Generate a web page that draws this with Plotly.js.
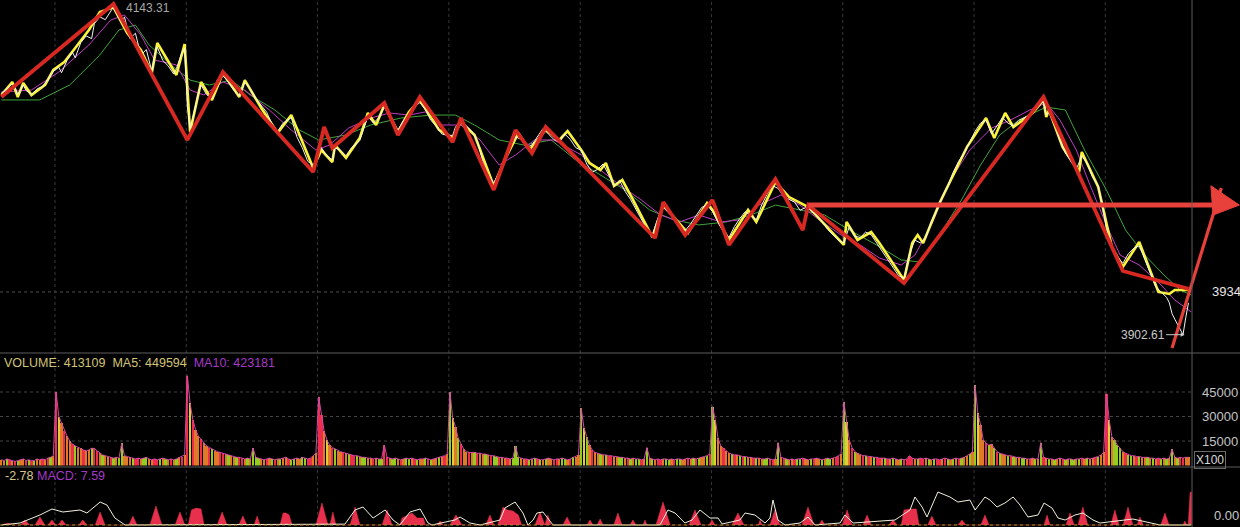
<!DOCTYPE html>
<html><head><meta charset="utf-8">
<script src="https://cdn.plot.ly/plotly-3.0.1.min.js"></script>
<style>html,body{margin:0;padding:0;background:#000;overflow:hidden}#chart{width:1240px;height:527px}</style>
</head><body><div id="chart"></div>
<script>
// ===== DATA (x = 5-minute bar index, price in index points) =====
const dayOpenBars = [20,68,116,164,212,260,308,356,404];
const highLabel = 4143.31;
const lowLabel = 3902.61;
const refLevel = 3934;

const whitePrice = [[0,4080],[2,4083],[4,4087],[5,4084],[6,4079],[8,4086],[9,4082],[11,4079],[13,4083],[15,4085],[17,4090],[19,4096],[21,4099],[22,4095],[24,4104],[26,4110],[27,4106],[29,4117],[31,4122],[33,4120],[34,4131],[36,4136],[38,4134],[40,4140],[41,4143.3],[42,4139],[44,4132],[45,4136],[47,4120],[49,4124],[51,4108],[53,4112],[55,4096],[56,4108],[57,4114],[59,4104],[61,4100],[63,4094],[64,4098],[66,4110],[67,4113],[68,4070],[69,4054],[70,4062],[72,4080],[73,4086],[75,4079],[77,4076],[79,4090],[81,4093],[83,4088],[85,4082],[87,4078],[89,4088],[91,4083],[93,4076],[95,4071],[97,4066],[99,4057],[101,4052],[103,4058],[106,4062],[108,4048],[110,4040],[112,4030],[114,4027],[116,4036],[117,4040],[119,4034],[121,4031],[122,4040],[124,4038],[126,4034],[128,4040],[131,4045],[133,4058],[134,4063],[136,4058],[138,4062],[140,4070],[142,4064],[143,4058],[145,4053],[147,4060],[149,4064],[151,4070],[153,4073],[155,4068],[157,4060],[159,4056],[161,4050],[163,4049],[165,4049],[166,4055],[168,4060],[170,4056],[172,4052],[174,4045],[176,4030],[178,4020],[180,4014],[182,4022],[184,4032],[186,4040],[188,4048],[190,4046],[192,4040],[194,4042],[196,4048],[198,4054],[200,4050],[202,4046],[204,4044],[206,4050],[208,4046],[210,4040],[212,4038],[214,4028],[216,4022],[218,4024],[220,4028],[222,4020],[224,4012],[226,4016],[228,4008],[230,4002],[232,3995],[234,3988],[236,3980],[238,3976],[240,3988],[242,3996],[244,3992],[246,3988],[248,3982],[250,3979],[252,3984],[254,3990],[256,3996],[258,3998],[260,3993],[262,3985],[264,3978],[266,3974],[268,3982],[270,3988],[272,3993],[274,3990],[276,3987],[278,3998],[280,4006],[282,4012],[284,4010],[286,4004],[288,4002],[290,4000],[292,3994],[294,3996],[296,3994],[298,3990],[300,3986],[302,3980],[304,3976],[306,3972],[308,3970],[310,3982],[312,3975],[314,3974],[316,3978],[318,3976],[320,3970],[322,3964],[324,3958],[326,3952],[328,3946],[330,3944],[332,3962],[334,3972],[336,3970],[338,3974],[340,3986],[342,3994],[344,4004],[346,4012],[348,4022],[350,4030],[352,4036],[354,4044],[356,4052],[358,4058],[360,4060],[362,4050],[364,4056],[366,4062],[368,4058],[370,4056],[372,4060],[374,4062],[376,4064],[378,4068],[380,4072],[381,4074],[382,4064],[383,4066],[385,4058],[387,4046],[389,4036],[391,4030],[393,4024],[395,4034],[397,4028],[399,4018],[401,4012],[403,3992],[404,3980],[406,3968],[408,3960],[410,3955],[412,3962],[414,3966],[416,3968],[418,3958],[420,3948],[422,3938],[424,3934],[426,3930],[427,3926],[428,3918],[429,3914],[430,3910],[431,3906],[432,3902.61],[433,3915],[434,3926]];

const maPurple = [[0,4080.8],[11,4082.3],[21,4095.5],[32,4115.4],[40,4133.7],[45,4137.4],[51,4122.7],[56,4104.3],[64,4100.7],[69,4082.3],[74,4078.6],[81,4088.2],[89,4082.3],[98,4067.6],[106,4052.9],[115,4038.2],[120,4041.9],[127,4054.4],[135,4061.7],[142,4065.4],[149,4063.9],[155,4066.2],[160,4056.6],[168,4056.6],[175,4045.6],[182,4027.2],[188,4034.6],[195,4045.6],[202,4045.6],[212,4034.6],[219,4023.6],[226,4012.5],[234,4001.5],[241,3990.5],[248,3985.4],[255,3990.5],[263,3985.4],[270,3986.9],[277,3997.8],[285,4005.2],[292,3997.8],[299,3986.9],[307,3975.8],[314,3968.5],[321,3958.9],[329,3953.8],[334,3961.1],[340,3983.2],[347,4016.2],[354,4038.2],[362,4054.4],[369,4060.3],[376,4067.6],[382,4072.8],[387,4060.3],[393,4038.2],[398,4012.5],[404,3983.2],[409,3961.1],[416,3953.8],[424,3939.1],[429,3928.1],[435,3919.3]];

const maGreen = [[0,4075.0],[14,4075.0],[25,4086.0],[36,4108.0],[43,4126.4],[49,4130.0],[54,4115.4],[62,4100.7],[69,4089.6],[76,4086.0],[84,4089.6],[91,4078.6],[100,4067.6],[109,4052.9],[116,4045.6],[126,4049.3],[135,4056.6],[146,4061.7],[157,4063.9],[166,4063.9],[173,4056.6],[182,4045.6],[191,4041.9],[201,4045.6],[210,4030.9],[219,4019.9],[228,4008.9],[237,3994.2],[246,3986.9],[255,3983.2],[265,3985.4],[274,3990.5],[283,3997.8],[292,3994.2],[301,3990.5],[310,3979.5],[320,3968.5],[329,3957.5],[336,3956.0],[343,3975.8],[351,4001.5],[358,4027.2],[365,4049.3],[372,4060.3],[382,4069.8],[389,4067.6],[396,4038.2],[404,4008.9],[411,3979.5],[418,3961.1],[425,3946.5],[431,3935.4],[435,3931.8]];

const yellowZig = [[0,4078.6],[4,4088.2],[6,4077.2],[8,4087.4],[11,4078.6],[16,4086.0],[19,4097.0],[23,4102.9],[27,4113.1],[32,4126.4],[36,4139.6],[41,4143.0],[46,4124.2],[51,4111.7],[55,4094.8],[57,4116.8],[64,4093.3],[67,4116.1],[69,4051.5],[73,4088.2],[77,4075.0],[81,4094.8],[87,4077.2],[89,4089.6],[95,4069.1],[101,4050.7],[106,4063.9],[114,4025.0],[117,4038.2],[121,4029.4],[122,4041.9],[126,4032.4],[131,4047.0],[134,4065.4],[137,4056.6],[140,4071.3],[145,4051.5],[149,4066.2],[153,4075.0],[160,4053.0],[165,4047.1],[168,4058.8],[173,4049.3],[180,4011.8],[184,4030.9],[189,4050.7],[193,4038.2],[199,4052.9],[204,4045.6],[207,4052.2],[212,4038.2],[215,4028.7],[219,4023.6],[221,4028.7],[224,4011.8],[227,4016.2],[231,4001.5],[238,3974.3],[242,3997.8],[251,3977.3],[258,3999.3],[260,3994.2],[266,3972.2],[273,3994.2],[276,3985.4],[283,4014.7],[288,4003.7],[295,3996.4],[308,3968.5],[309,3985.4],[313,3972.2],[318,3978.0],[321,3969.9],[330,3942.8],[333,3969.9],[335,3975.8],[337,3969.9],[343,3999.3],[353,4040.4],[360,4061.7],[363,4047.0],[367,4065.4],[370,4055.1],[377,4065.4],[381,4075.0],[382,4062.5],[383,4067.6],[388,4040.4],[394,4022.1],[395,4036.8],[401,4011.1],[404,3983.2],[406,3967.0],[410,3952.3],[416,3970.7],[423,3934.0],[427,3932.5],[429,3935.4],[434,3935.4]];

const redZig = [[0,4077.2],[41,4145.5],[68,4045.6],[81,4095.5],[114,4022.1],[118,4055.1],[121,4039.7],[140,4072.8],[145,4049.3],[153,4077.2],[165,4044.1],[168,4061.7],[180,4008.9],[188,4052.9],[194,4036.0],[199,4055.1],[239,3973.6],[242,4000.0],[250,3975.8],[260,4001.5],[266,3968.5],[283,4016.9],[293,3979.5],[295,3997.8],[330,3940.6],[381,4077.2],[410,3949.4],[434,3936.2]];

// hand-drawn arrows on the chart
const arrowFlat = [[295,3997.8],[446.5,3997.8]];
const arrowHead = [[442.2,4012.0],[452.6,3997.8],[443.0,3990.5],[442.2,4012.0]];
const arrowRise = [[428,3892.8],[446,4010.3]];

// volume (axis units x100, listed in thousands)
const volDays = [
 [3.5,3,4,3.5,3,2.5,3,3.5, 4,3,3.5,3,3,4,3.5,4, 3.5,4.5,5,6],
 [45,30,26,21,18,15,13,12, 11,10.5,9.5,9,9.5,10.5,10.5,9, 7.5,6.5,6,5.5,5,4.5,5,4.5, 13.5,6,5.5,5,4.5,4,4.5,4, 4.5,5,4,3.5,4,3.5,4,4.5, 4,3.5,4,3.5,4,5,5.5,6.5],
 [55,38,28,22,18,16,14,12, 11,10,9,8.5,8,7.5,7,6.5, 6,5.5,5,5,4.5,4,4.5,4, 10.7,5,4.5,4,3.5,4,4.5,4, 3.5,4,4,4.5,5,4,3.5,4, 4.5,4,5,4.5,4,4.5,6,7.5],
 [42,31,21,15.6,12.5,11,10,9, 8.5,8,7.5,7,6.5,6,6,5.5, 5,5,4.5,4.5,4,4.5,4,4, 12.5,5,4.5,4,4.5,4,3.5,4, 4.5,4,4.5,4,3.5,4,4,4.5, 4,3.5,4,4.5,5,5.5,6,7],
 [45,29,23.8,16.8,13,10,8.5,8, 8,8,7.5,7.5,7,7,6.5,6, 6,5.5,5,5,4.5,4.5,4,4.5, 12,5,4.5,4,4,3.5,4,4.5, 4,3.5,3.5,4,4.5,4,3.5,4, 4,4.5,4,3.5,4,5,5.5,6.5],
 [35,23,17.6,12.5,9.5,8,7.5,7, 6.5,6.5,6,6,5.5,5.5,5,5, 4.5,4.5,4,4.5,4,4,3.5,4, 11,4.5,4,3.5,4,3.5,4,4, 3.5,4,3.5,4,4,3.5,4,4.5, 4,4.5,4,4.5,5,5.5,6,7],
 [36,28,16.8,12,10.6,9,7.6,7, 6.5,6.5,6,5.5,5.5,5,5,4.5, 4.5,4.5,4,4,4.5,4,3.5,4, 14,5,4.5,4,3.5,4,3.5,4, 4,4.5,4,3.5,4,4,4.5,4, 3.5,4,4.5,4,4.5,5,6,7],
 [39,26.8,15.6,11,8.5,7.5,6.5,6, 6,5.5,5.5,5,5,4.5,4.5,4.5, 4,4,4.5,4,3.5,4,3.5,4, 6,4.5,4,4,4.5,4,4.5,4, 3.5,4,4,3.5,4,4.5,4,3.5, 4,4.5,4,4.5,5,6,7,8],
 [49,32,24.8,15.6,13.7,12.5,13,10.6, 8.5,7.5,7,6.5,6,6,5.5,5, 5,4.5,4.5,4,4,4.5,4,4, 14,5,4.5,4,4,3.5,4,4.5, 4,3.5,4,4,3.5,4,4,4.5, 4,4.5,4,4.5,5,5.5,6.5,8],
 [44,28,17.6,15.6,12.5,10.6,8.5,7.5, 6.5,6,6,5.5,5.5,5,5,5, 4.5,4.5,4,4.5,4,4.5,4,4.5, 10,5,4.5,5,4.5,5,5]
];
// bar colour codes: r = red, g = green, o = orange, y = yellow
const volColorDays = [
 "oogrorgo orgrgoor orgo",
 "ryoroorg ooroogrr ogoorgog gooogrro ggoorrgo gorogoro",
 "ryrooroo rgoorrog oogrrogo gggoorog rogoorgg ooggrroo",
 "rroyorgo orogrrgo ggoorogg rroggoro ggorgoog rgoogoro",
 "gyogroor ogroogor ggroorog ggoorgog rgogoorr oggorgoo",
 "gygoroog ogrroogg orgoggro gogorrog gorggoor ogrgoogr",
 "gyooroog rogrgoor googgrro gorgoorg groogroo goggorro",
 "gyorgoor grogrrog rogoogrr rrogrrog ogrrorgo gorgoogo",
 "gyoorgog rgoogrgo oggorogo grogogoo rgoggogr ogoorgoo",
 "ryogggor ggorgoog ogorgogo gogrroo"
];
const volTicks = [15, 30, 45];
const volTickText = ["15000", "30000", "45000"];

// MACD histogram outline (bar index, value) and DIF line
const macdHist = [[0,0],[2.4,0.46],[4,0],[7,0],[8.6,1.15],[10.4,0],[12.3,0],[14.1,1.84],[15.9,0],[17,0],[18.5,1.15],[20,0],[20.7,0],[22.2,1.15],[23.7,0],[28.3,0],[29.8,1.15],[31.3,0],[34.3,0],[36.1,2.99],[37.9,0],[46.6,0],[48.1,2.07],[49.6,0],[54.3,0],[56.5,4.37],[58.7,0],[63.5,0],[65.3,2.99],[67.1,0],[68.3,0],[69.5,3.45],[71.2,3.91],[73,3.68],[74.1,0],[78.9,0],[80.7,2.99],[82.5,0],[86.8,0],[88.3,2.07],[89.8,0],[92.4,0],[93.5,2.07],[94.6,0],[101.9,0],[103,2.76],[104.1,2.76],[105.2,2.3],[106.3,0],[115,0],[117.2,5.06],[119.4,0],[120.1,0],[121.2,2.99],[122.3,0],[127.5,0],[129.3,4.14],[131.1,0],[139.2,0],[141,3.45],[142.8,0],[145.7,0],[146.5,1.61],[150.1,2.76],[152,1.61],[154.3,1.61],[155,0],[159.3,0],[160.4,0.92],[161.5,0],[164,0],[166.2,2.3],[168.4,0],[177.1,0],[178.6,2.3],[180.1,0],[181.5,0],[183.4,4.14],[185,3.45],[187,3.22],[189,2.3],[190.2,0],[195.1,0],[196.9,2.99],[198.7,0],[199.8,2.3],[200.9,0],[205.3,0],[206.8,1.84],[208.3,0],[214.1,0],[215.2,1.15],[216.3,0],[217.8,0],[218.9,1.38],[220,0],[223.9,0],[225.4,2.76],[226.9,0],[229.8,0],[230.9,1.15],[232,0],[234.6,0],[235.3,1.15],[236,0],[239.3,0],[241.9,5.29],[244.5,0],[251.4,0],[253.6,3.45],[255.8,0],[258.7,0],[259.8,1.15],[260.9,0],[267.1,0],[269.3,2.76],[271.5,0],[276.7,0],[277.4,1.15],[278.1,0],[281,0],[282.8,3.45],[284.6,0],[292.7,0],[294.9,4.14],[297.1,0],[298.9,0],[300,1.15],[301.1,0],[307.4,0],[309.2,3.45],[311,0],[315,0],[316.5,2.3],[318,0],[324.5,0],[326,1.15],[327.5,0],[329,0],[330,3.45],[332.2,3.68],[334.5,3.68],[335.5,0],[338.7,0],[340.2,2.07],[341.7,0],[349.7,0],[351.2,1.15],[352.7,0],[358.1,0],[359.6,2.3],[361.1,0],[381.2,0],[382.3,2.3],[383.4,0],[389.2,0],[390.7,2.76],[392.2,0],[393.6,0],[395.4,4.14],[397.2,0],[405.6,0],[407.1,3.45],[408.6,0],[410.1,0],[411.9,4.14],[413.7,0],[415.2,0],[416.3,1.84],[417.4,0],[423.9,0],[425.4,2.76],[426.9,0],[432,0],[432.7,0.92],[433.4,0],[433.9,0],[434.6,7.59],[435.1,7.59],[435.2,0]];

const macdDif = [[0,0],[6.8,0.46],[14.1,2.3],[18.5,3.68],[22.5,2.99],[28.7,3.45],[31.3,2.76],[36.1,5.29],[38.6,4.6],[41.5,1.61],[45.2,0],[125.6,0.2],[129.3,3.45],[132.2,4.14],[135.9,1.61],[140.3,3.45],[143.2,1.15],[145.7,0],[149.4,2.99],[153.1,3.68],[156,0.46],[157.4,0],[165.8,1.15],[167.7,1.84],[171.3,0.46],[175,0],[182.3,1.15],[184.1,3.91],[187.8,5.29],[190.7,2.76],[192.5,0],[194.4,1.15],[195.8,2.76],[198,2.99],[201.7,0],[240.8,0],[243.7,3.45],[246.3,2.76],[249.9,0.46],[252.5,1.15],[255.4,3.45],[259.1,1.61],[262,1.61],[263.5,0.23],[270,1.15],[271.9,2.76],[275.5,2.3],[279.2,0.46],[281,1.61],[282.1,5.75],[283.9,1.15],[286.5,0],[292,0.46],[294.9,1.84],[297.5,0],[306.6,0.46],[308.4,2.3],[311.4,0.46],[326.7,1.15],[332.2,3.45],[334,6.44],[336.6,4.14],[338.4,1.84],[342.4,7.59],[346.8,6.44],[349.7,5.29],[354.1,5.75],[356,3.45],[359.6,6.44],[361.4,5.75],[364,4.14],[366.9,5.06],[369.9,6.44],[372.4,4.6],[375.3,1.84],[379,2.3],[381.2,5.06],[384.1,3.91],[386.3,1.61],[388.9,1.15],[392.5,2.3],[395.4,2.76],[399.1,1.15],[401.7,0.46],[413.7,1.38],[418.1,0.69],[423.6,0],[435,0]];

const volLabel = {vol: "413109", ma5: "449594", ma10: "423181"};
const macdLabel = {dif: "-2.78", macd: "7.59"};

// ===== BUILD =====
const colMap = {r:'#ee2c4c', g:'#93cc22', o:'#e07a28', y:'#e2cc3c'};
const vol = [].concat(...volDays);
const volCodes = volColorDays.join('').replace(/ /g,'');
const volX = vol.map((v,i)=>i);
const volCol = vol.map((v,i)=>colMap[volCodes[i]] || colMap.o);
const xs = a => a.map(p=>p[0]);
const ys = a => a.map(p=>p[1]);
const XR = 435.3; // right edge of plotting area (bar units)

const line = (pts, color, width, yaxis) => ({type:'scatter', mode:'lines', x:xs(pts), y:ys(pts),
  line:{color, width}, yaxis: yaxis||'y', hoverinfo:'skip'});

const traces = [
  line(maGreen, '#3fa63a', 1),
  line(maPurple, '#c23cc8', 1),
  line(yellowZig, '#fbf33a', 2.6),
  line(whitePrice, '#f4f4f4', 1),
  line(redZig, '#d82822', 3.8),
  line(arrowFlat, '#e8403a', 5),
  line(arrowRise, '#e8403a', 3.2),
  {type:'scatter', mode:'lines', x:xs(arrowHead), y:ys(arrowHead), fill:'toself',
   fillcolor:'#e8403a', line:{color:'#e8403a', width:1}, hoverinfo:'skip'},
  {type:'bar', x:volX, y:vol, yaxis:'y2', marker:{color:volCol, line:{width:0}}, width:0.82, hoverinfo:'skip'},
  {type:'scatter', mode:'lines', x:volX, y:vol, yaxis:'y2', line:{color:'#d24aa8', width:1}, hoverinfo:'skip'},
  {type:'scatter', mode:'lines', x:xs(macdHist), y:ys(macdHist), yaxis:'y3', fill:'tozeroy',
   fillcolor:'#e8304c', line:{color:'#e8304c', width:0.5}, hoverinfo:'skip'},
  line(macdDif, '#f4f0dc', 1, 'y3')
];

const shapes = [];
dayOpenBars.forEach(t => shapes.push({type:'line', xref:'x', yref:'paper', x0:t-0.4, x1:t-0.4, y0:0, y1:1,
  layer:'below', line:{color:'#383838', width:1, dash:'dot'}}));
shapes.push({type:'line', xref:'x', yref:'y', x0:-0.5, x1:XR, y0:refLevel, y1:refLevel, layer:'below',
  line:{color:'#4e4e4e', width:1, dash:'dot'}});
volTicks.forEach(v => shapes.push({type:'line', xref:'x', yref:'y2', x0:-0.5, x1:XR, y0:v, y1:v, layer:'below',
  line:{color:'#444', width:1, dash:'dot'}}));
shapes.push({type:'line', xref:'x', yref:'y3', x0:-0.5, x1:XR, y0:0, y1:0, line:{color:'#8a9a20', width:1, dash:'dot'}});
shapes.push({type:'line', xref:'paper', yref:'paper', x0:0, x1:1, y0:1-353/527, y1:1-353/527, line:{color:'#5c5c5c', width:1}});
shapes.push({type:'line', xref:'paper', yref:'paper', x0:0, x1:1, y0:1-467/527, y1:1-467/527, line:{color:'#5c5c5c', width:1}});
shapes.push({type:'line', xref:'x', yref:'paper', x0:XR, x1:XR, y0:0, y1:1, line:{color:'#5c5c5c', width:1}});

const F = 'Liberation Sans, Arial, sans-serif';
const annotations = [
  {xref:'x', yref:'y', x:53.6, y:highLabel-0.8, text:highLabel.toFixed(2), showarrow:false,
   font:{family:F, size:12, color:'#a8a8a8'}},
  {xref:'x', yref:'y', x:432.6, y:lowLabel, text:lowLabel.toFixed(2), showarrow:true, ax:-42, ay:0,
   arrowhead:2, arrowsize:0.8, arrowwidth:1, arrowcolor:'#cccccc', standoff:0, font:{family:F, size:12, color:'#c8c8c8'}},
  {xref:'x', yref:'y', x:441.9, y:refLevel, xanchor:'left', text:String(refLevel), showarrow:false,
   font:{family:F, size:13, color:'#e6e6e6'}},
  {xref:'x', yref:'y2', x:436.0, y:3.6, xanchor:'left', text:'X100', showarrow:false, bordercolor:'#6a6a6a',
   borderwidth:1, borderpad:1, font:{family:F, size:12, color:'#d8d8d8'}},
  {xref:'x', yref:'y3', x:442.6, y:0.5, yanchor:'bottom', yshift:-2, text:'0.00', xanchor:'left', showarrow:false,
   font:{family:F, size:13, color:'#c8c8c8'}},
  {xref:'paper', yref:'paper', x:2/1240, y:1-363/527, xanchor:'left', yanchor:'middle', showarrow:false,
   text:'VOLUME: '+volLabel.vol+'  MA5: '+volLabel.ma5+'  <span style="color:#a63ac6">MA10: '+volLabel.ma10+'</span>',
   font:{family:F, size:12.5, color:'#d2c476'}},
  {xref:'paper', yref:'paper', x:3/1240, y:1-476/527, xanchor:'left', yanchor:'middle', showarrow:false,
   text:macdLabel.dif+' <span style="color:#a63ac6">MACD: '+macdLabel.macd+'</span>',
   font:{family:F, size:12.5, color:'#d8c890'}}
];
volTicks.forEach((v,i)=>annotations.push({xref:'x', yref:'y2', x:438.2, y:v, xanchor:'left', text:volTickText[i],
  showarrow:false, font:{family:F, size:13, color:'#c4c4c4'}}));

const layout = {
  width:1240, height:527, autosize:false,
  margin:{l:0, r:0, t:0, b:0, pad:0},
  paper_bgcolor:'#000', plot_bgcolor:'#000', showlegend:false, bargap:0,
  xaxis:{range:[-0.5, 452.84], domain:[0,1], visible:false, fixedrange:true},
  yaxis:{domain:[1-352/527, 1], range:[3889.9, 4148.4], visible:false},
  yaxis2:{domain:[1-465.5/527, 1-354/527], range:[0, 68.27], visible:false},
  yaxis3:{domain:[0, 1-468/527], range:[-0.46, 13.11], visible:false},
  shapes, annotations
};
Plotly.newPlot('chart', traces, layout, {staticPlot:true, displayModeBar:false});
</script></body></html>
